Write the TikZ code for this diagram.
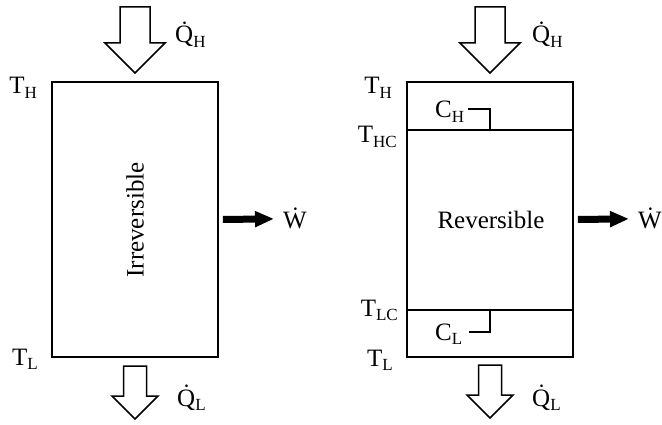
\documentclass[tikz,border=0pt]{standalone}
\usepackage{fontspec}
\setmainfont{Liberation Serif}
\usetikzlibrary{arrows.meta}
\newcommand\lowsub[1]{\raisebox{-4.5pt}{\fontsize{17}{17}\selectfont #1}}
\begin{document}
\begin{tikzpicture}[x=1pt,y=-1pt,
  lbl/.style={inner sep=0pt, font=\fontsize{25}{29}\selectfont},
  engine/.style={draw, line width=1.6pt, minimum width=166pt, minimum height=275pt, inner sep=0pt},
  heatarrow/.style={draw, line width=1.5pt, fill=white, line join=miter},
  workarrow/.style={line width=7pt, -{Triangle[length=19pt,width=15pt]}},
  divider/.style={line width=1.6pt}]
\path[use as bounding box] (0,0) rectangle (662,425);

% ---------- left engine ----------
\node[engine] (L) at (135,219.5) {};
\node[lbl, rotate=90] (Ltxt) at (135,220) {Irreversible};
\node[lbl, anchor=base east] (LTH) at (37,94) {T\lowsub{H}};
\node[lbl, anchor=base east] (LTL) at (38,365) {T\lowsub{L}};

\coordinate (LtipH) at (135,73);
\draw[heatarrow] (LtipH) -- ++(30,-30) -- ++(-15,0) -- ++(0,-36) -- ++(-30,0) -- ++(0,36) -- ++(-15,0) -- cycle;
\node[lbl, anchor=base west] (LQH) at (175,43) {\.{Q}\lowsub{H}};

\coordinate (LtipL) at (135,419);
\draw[heatarrow] (LtipL) -- ++(23,-23) -- ++(-11.5,0) -- ++(0,-30) -- ++(-23,0) -- ++(0,30) -- ++(-11.5,0) -- cycle;
\node[lbl, anchor=base west] (LQL) at (177,406) {\.{Q}\lowsub{L}};

\node[lbl, anchor=base west] (LW) at (283,229) {\.{W}};
\draw[workarrow] ([xshift=4pt]L.east) -- ([xshift=-9pt]LW.west);

% ---------- right engine ----------
\node[engine] (R) at (490,219.5) {};
\node[lbl] (Rtxt) at (491,220) {Reversible};
\coordinate (HCw) at (407,130);
\coordinate (HCe) at (573,130);
\coordinate (LCw) at (407,310);
\coordinate (LCe) at (573,310);
\draw[divider] (HCw) -- (HCe);
\draw[divider] (LCw) -- (LCe);

\node[lbl, anchor=base east] (RTH) at (392,94) {T\lowsub{H}};
\node[lbl, anchor=base east] (RTHC) at (397,143) {T\lowsub{HC}};
\node[lbl, anchor=base east] (RTLC) at (398,316) {T\lowsub{LC}};
\node[lbl, anchor=base east] (RTL) at (393,366) {T\lowsub{L}};

\node[lbl, anchor=base west] (CH) at (435,118) {C\lowsub{H}};
\node[lbl, anchor=base west] (CL) at (435,340) {C\lowsub{L}};
\coordinate (hookH) at (490,130);
\coordinate (hookL) at (490,310);
\draw[divider] (468,109) -- (490,109) -- (hookH);
\draw[divider] (hookL) -- (490,332) -- (469,332);

\coordinate (RtipH) at (490,73);
\draw[heatarrow] (RtipH) -- ++(30,-30) -- ++(-15,0) -- ++(0,-36) -- ++(-30,0) -- ++(0,36) -- ++(-15,0) -- cycle;
\node[lbl, anchor=base west] (RQH) at (532,43) {\.{Q}\lowsub{H}};

\coordinate (RtipL) at (490,418);
\draw[heatarrow] (RtipL) -- ++(23,-23) -- ++(-11.5,0) -- ++(0,-30) -- ++(-23,0) -- ++(0,30) -- ++(-11.5,0) -- cycle;
\node[lbl, anchor=base west] (RQL) at (532,406) {\.{Q}\lowsub{L}};

\node[lbl, anchor=base west] (RW) at (638,229) {\.{W}};
\draw[workarrow] ([xshift=4pt]R.east) -- ([xshift=-9pt]RW.west);
\end{tikzpicture}
\end{document}
